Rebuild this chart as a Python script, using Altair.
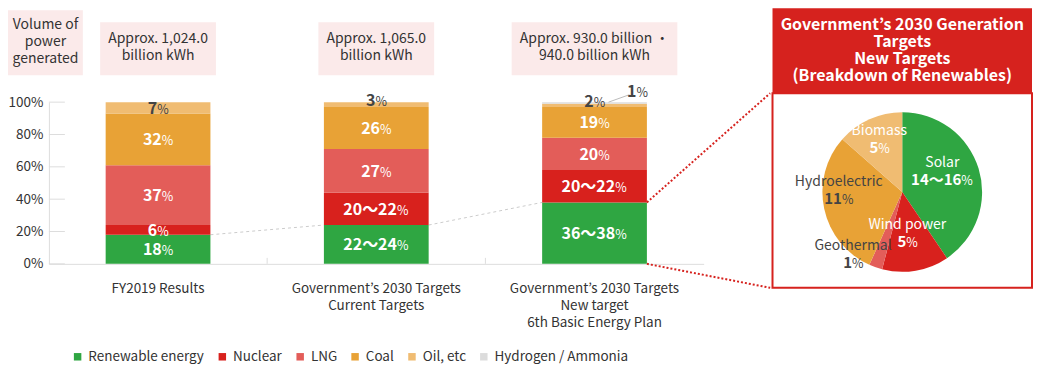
import altair as alt
import pandas as pd

FONT = "Noto Sans CJK JP"
TXT = "#333333"
DARK = "#444444"
PINK = "#fbeaea"
RED = "#d6221e"

# ---------------- data ----------------
categories = [
    "FY2019 Results",
    "Government’s 2030 Targets|Current Targets",
    "Government’s 2030 Targets|New target|6th Basic Energy Plan",
]
sources = ["Renewable energy", "Nuclear", "LNG", "Coal", "Oil, etc", "Hydrogen / Ammonia"]
colors = ["#2fa642", "#d8211d", "#e35d59", "#e8a236", "#f0bc72", "#dcdcdc"]

renewable = [18, 24, 38]
nuclear = [6, 20, 20]
lng = [37, 27, 20]
coal = [32, 26, 19]
oil = [7, 3, 2]
hydrogen = [0, 0, 1]

renewable_labels = ["18", "22〜24", "36〜38"]
nuclear_labels = ["6", "20〜22", "20〜22"]
lng_labels = ["37", "27", "20"]
coal_labels = ["32", "26", "19"]
oil_labels = ["7", "3", "2"]
hydrogen_labels = ["", "", "1"]

volume_headers = [
    "Approx. 1,024.0|billion kWh",
    "Approx. 1,065.0|billion kWh",
    "Approx. 930.0 billion ・| 940.0 billion kWh",
]
volume_title = "Volume of|power|generated"
y_ticks = [0, 20, 40, 60, 80, 100]

pie_title = "Government’s 2030 Generation|Targets|New Targets|(Breakdown of Renewables)"
pie_names = ["Solar", "Wind power", "Geothermal", "Hydroelectric", "Biomass"]
pie_values = [15, 5, 1, 11, 5]
pie_labels = ["14〜16", "5", "1", "11", "5"]
pie_colors = ["#2fa642", "#d8211d", "#e35d59", "#e8a236", "#f0bc72"]

# ---------------- tables ----------------
series = [renewable, nuclear, lng, coal, oil, hydrogen]
series_labels = [renewable_labels, nuclear_labels, lng_labels, coal_labels, oil_labels, hydrogen_labels]
rows = []
for si, s in enumerate(sources):
    for ci, c in enumerate(categories):
        rows.append({"category": c, "source": s, "ord": si,
                     "value": series[si][ci], "lab": series_labels[si][ci]})
df = pd.DataFrame(rows)

conn_df = pd.DataFrame({"c1": categories[:-1], "c2": categories[1:],
                        "v1": renewable[:-1], "v2": renewable[1:]})
last_df = pd.DataFrame({"category": [categories[-1]], "v": [renewable[-1]]})
hdr_df = pd.DataFrame({"category": categories, "t": volume_headers, "i": list(range(len(categories)))})
tick_df = pd.DataFrame({"t": y_ticks})
bound_df = pd.DataFrame({"category": categories[1:]})
vol_df = pd.DataFrame({"t": [volume_title]})
title_df = pd.DataFrame({"t": [pie_title]})
pie_df = pd.DataFrame({"name": pie_names, "value": pie_values, "lab": pie_labels,
                       "ord": list(range(len(pie_names)))})

# ---------------- layout constants ----------------
W, H = 656, 162
STEP = W / 3
HALF = STEP * 0.48 / 2
PIE_W = 260
HDR_TOP = -94      # relative to the bar plot's top
BODY_TOP = -9
BODY_BOT = 186
LH = 17


def num_w(s, size):
    return sum(size if ch == "〜" else size * 0.56 for ch in s)


def first_line(center, text):
    return center - (len(text.split("|")) - 1) * LH / 2


PCT_W = 10.5

xscale = alt.Scale(domain=categories, paddingInner=0.52, paddingOuter=0.26)
yscale = alt.Scale(domain=[0, 100], nice=False)
xaxis = alt.Axis(title=None, labelExpr="split(datum.label, '|')", labelAngle=0,
                 labelFont=FONT, labelFontSize=13.5, labelColor=TXT, labelLineHeight=LH,
                 labelPadding=18, ticks=False, domainColor="#dddddd", labelBaseline="top")
yaxis = alt.Axis(title=None, values=y_ticks, labelExpr="datum.value + '%'",
                 labelFont=FONT, labelFontSize=13.5, labelColor=TXT, labelPadding=6,
                 ticks=False, grid=False, domainColor="#dddddd")


def X(field):
    return alt.X(f"{field}:N", sort=categories, scale=xscale, axis=xaxis)


def Y(field):
    return alt.Y(f"{field}:Q", scale=yscale, axis=yaxis)


# ---------------- bar chart ----------------
bars = alt.Chart(df).mark_bar().encode(
    x=X("category"),
    y=alt.Y("value:Q", stack="zero", scale=yscale, axis=yaxis),
    color=alt.Color("source:N", scale=alt.Scale(domain=sources, range=colors),
                    legend=alt.Legend(title=None, orient="none", legendX=22, legendY=248,
                                      direction="horizontal", columns=6,
                                      symbolType="square", symbolSize=56, symbolStrokeWidth=0,
                                      labelFont=FONT, labelFontSize=13.5, labelColor=TXT,
                                      columnPadding=11, labelOffset=4, padding=0)),
    order=alt.Order("ord:Q", sort="ascending"),
)

lab_base = alt.Chart(df).transform_stack(
    stack="value", groupby=["category"], sort=[alt.SortField("ord", order="ascending")],
    as_=["y0", "y1"],
).transform_calculate(
    ypos="datum.y1 - datum.y0 < 5 ? datum.y1 + 1.5 : (datum.y0 + datum.y1) / 2"
)
inside = lab_base.transform_filter("datum.lab != '' && datum.ord < 5")
txt_color = alt.condition("datum.ord >= 4", alt.value(DARK), alt.value("white"))

all_labels = [l for ls in series_labels for l in ls if l]
label_layers = []
for n in sorted({len(l) for l in all_labels}):
    ex = next(l for l in all_labels if len(l) == n)
    dx = (num_w(ex, 16) - PCT_W) / 2
    grp = inside.transform_filter(f"length(datum.lab) == {n}")
    label_layers.append(grp.mark_text(align="right", baseline="alphabetic", dx=dx, dy=6,
                                      font=FONT, fontSize=16, fontWeight="bold").encode(
        x=X("category"), y=Y("ypos"), text="lab:N", color=txt_color))
    label_layers.append(grp.mark_text(align="left", baseline="alphabetic", dx=dx, dy=6,
                                      font=FONT, fontSize=12.5).encode(
        x=X("category"), y=Y("ypos"), text=alt.value("%"), color=txt_color))

hyd = lab_base.transform_filter("datum.ord == 5 && datum.lab != ''")
hyd_num = hyd.mark_text(align="right", baseline="alphabetic", dx=42, dy=-5, font=FONT,
                        fontSize=16, fontWeight="bold", color=DARK).encode(
    x=X("category"), y=Y("y1"), text="lab:N")
hyd_pct = hyd.mark_text(align="left", baseline="alphabetic", dx=42, dy=-5, font=FONT,
                        fontSize=12.5, color=DARK).encode(
    x=X("category"), y=Y("y1"), text=alt.value("%"))
hyd_rule = hyd.mark_rule(color="#bbbbbb", xOffset=14, x2Offset=35, y2Offset=-7.5).encode(
    x=X("category"), x2=alt.X2("category:N"), y=Y("y1"), y2=alt.Y2("y1:Q"))

conn = alt.Chart(conn_df).mark_rule(color="#cccccc", strokeDash=[3, 3], xOffset=HALF,
                                    x2Offset=-HALF).encode(
    x=X("c1"), x2=alt.X2("c2:N"), y=Y("v1"), y2=alt.Y2("v2:Q"))

red_top = alt.Chart(last_df).mark_rule(color=RED, strokeDash=[2, 2], strokeWidth=2,
                                       xOffset=HALF, x2Offset=176, y2Offset=BODY_TOP).encode(
    x=X("category"), x2=alt.X2("category:N"), y=Y("v"), y2=alt.Y2(datum=100))
red_bot = alt.Chart(last_df).mark_rule(color=RED, strokeDash=[2, 2], strokeWidth=2,
                                       xOffset=HALF, x2Offset=176, y2Offset=BODY_BOT - H).encode(
    x=X("category"), x2=alt.X2("category:N"), y=alt.Y(datum=0, scale=yscale, axis=yaxis),
    y2=alt.Y2(datum=0))

yticks = alt.Chart(tick_df).mark_rule(color="#dddddd").encode(
    y=Y("t"), x=alt.value(0), x2=alt.value(16))
bticks = alt.Chart(bound_df).mark_rule(color="#dddddd", xOffset=-STEP / 2).encode(
    x=X("category"), y=alt.value(H), y2=alt.value(H - 6))

hdr_small = alt.Chart(hdr_df).transform_filter("datum.i < 2").mark_bar(width=116, color=PINK).encode(
    x=X("category"), y=alt.value(-80), y2=alt.value(-27))
hdr_wide = alt.Chart(hdr_df).transform_filter("datum.i >= 2").mark_bar(width=166, color=PINK).encode(
    x=X("category"), y=alt.value(-80), y2=alt.value(-27))
hdr_text = alt.Chart(hdr_df).mark_text(font=FONT, fontSize=14, color=TXT, lineBreak="|",
                                       lineHeight=LH, baseline="middle").encode(
    x=X("category"), y=alt.value(first_line(-54.5, volume_headers[0])), text="t:N")

vol_box = alt.Chart(vol_df).mark_rect(color=PINK).encode(
    x=alt.value(-41), x2=alt.value(34), y=alt.value(-92), y2=alt.value(-27))
vol_text = alt.Chart(vol_df).mark_text(font=FONT, fontSize=14, color=TXT, lineBreak="|",
                                       lineHeight=LH, baseline="middle").encode(
    x=alt.value(-3.5), y=alt.value(first_line(-60.5, volume_title)), text="t:N")

bar_chart = alt.layer(
    vol_box, vol_text, hdr_small, hdr_wide, hdr_text,
    yticks, bticks, conn, bars, *label_layers, hyd_rule, hyd_num, hyd_pct, red_top, red_bot,
).properties(width=W, height=H, view=alt.ViewBackground(stroke=None))

# ---------------- pie panel ----------------
CX = PIE_W / 2
CY = (BODY_TOP + BODY_BOT) / 2 + 1.5

hdr_rect = alt.Chart(title_df).mark_rect(color=RED).encode(
    x=alt.value(0), x2=alt.value(PIE_W), y=alt.value(HDR_TOP), y2=alt.value(BODY_TOP))
body_rect = alt.Chart(title_df).mark_rect(fill="white", stroke=RED, strokeWidth=2).encode(
    x=alt.value(0), x2=alt.value(PIE_W), y=alt.value(BODY_TOP), y2=alt.value(BODY_BOT))
title_text = alt.Chart(title_df).mark_text(
    font=FONT, fontSize=16, fontWeight="bold", color="white", lineBreak="|",
    lineHeight=LH, baseline="middle").encode(
    text="t:N", x=alt.value(CX), y=alt.value(first_line((HDR_TOP + BODY_TOP) / 2, pie_title)))

theta_scale = alt.Scale(domain=[0, sum(pie_values)], nice=False, zero=True)
arcs = alt.Chart(pie_df).mark_arc(radius=80).encode(
    theta=alt.Theta("value:Q", stack=True, scale=theta_scale),
    color=alt.Color("name:N", scale=alt.Scale(domain=pie_names, range=pie_colors), legend=None),
    order=alt.Order("ord:Q", sort="ascending"),
    x=alt.value(CX), y=alt.value(CY),
)

pie_base = alt.Chart(pie_df).transform_window(
    cum="sum(value)", sort=[alt.SortField("ord")], frame=[None, 0]
).transform_calculate(mid="datum.cum - datum.value / 2")

# radius, dx, dy, colour of each label
pie_style = {
    "Solar": (42, 0, -8, "white"),
    "Wind power": (48, -3, -5, "white"),
    "Geothermal": (70, -26, -3, DARK),
    "Hydroelectric": (63, -2, -14, DARK),
    "Biomass": (51, -2, -6, "white"),
}
pie_layers = [hdr_rect, body_rect, title_text, arcs]
for name, lab in zip(pie_names, pie_labels):
    r, dx, dy, col = pie_style[name]
    g = pie_base.transform_filter(alt.datum.name == name)
    th = alt.Theta("mid:Q", stack=None, scale=theta_scale)
    vdx = (num_w(lab, 15) - PCT_W) / 2
    pie_layers.append(g.mark_text(radius=r, dx=dx, dy=dy - 9, baseline="middle", font=FONT,
                                  fontSize=14, color=col).encode(
        theta=th, text="name:N", x=alt.value(CX), y=alt.value(CY)))
    pie_layers.append(g.mark_text(radius=r, dx=dx + vdx, dy=dy + 13, align="right",
                                  baseline="alphabetic", font=FONT, fontSize=15,
                                  fontWeight="bold", color=col).encode(
        theta=th, text="lab:N", x=alt.value(CX), y=alt.value(CY)))
    pie_layers.append(g.mark_text(radius=r, dx=dx + vdx, dy=dy + 13, align="left",
                                  baseline="alphabetic", font=FONT, fontSize=12.5,
                                  color=col).encode(
        theta=th, text=alt.value("%"), x=alt.value(CX), y=alt.value(CY)))

pie_chart = alt.layer(*pie_layers).properties(
    width=PIE_W, height=BODY_BOT, view=alt.ViewBackground(stroke=None, fill=None))

chart = alt.hconcat(bar_chart, pie_chart, spacing=0).resolve_scale(
    color="independent"
).properties(padding={"left": 0, "top": 0, "right": 0, "bottom": 0})

chart.save("out.html", embed_options={"renderer": "svg", "actions": False})
